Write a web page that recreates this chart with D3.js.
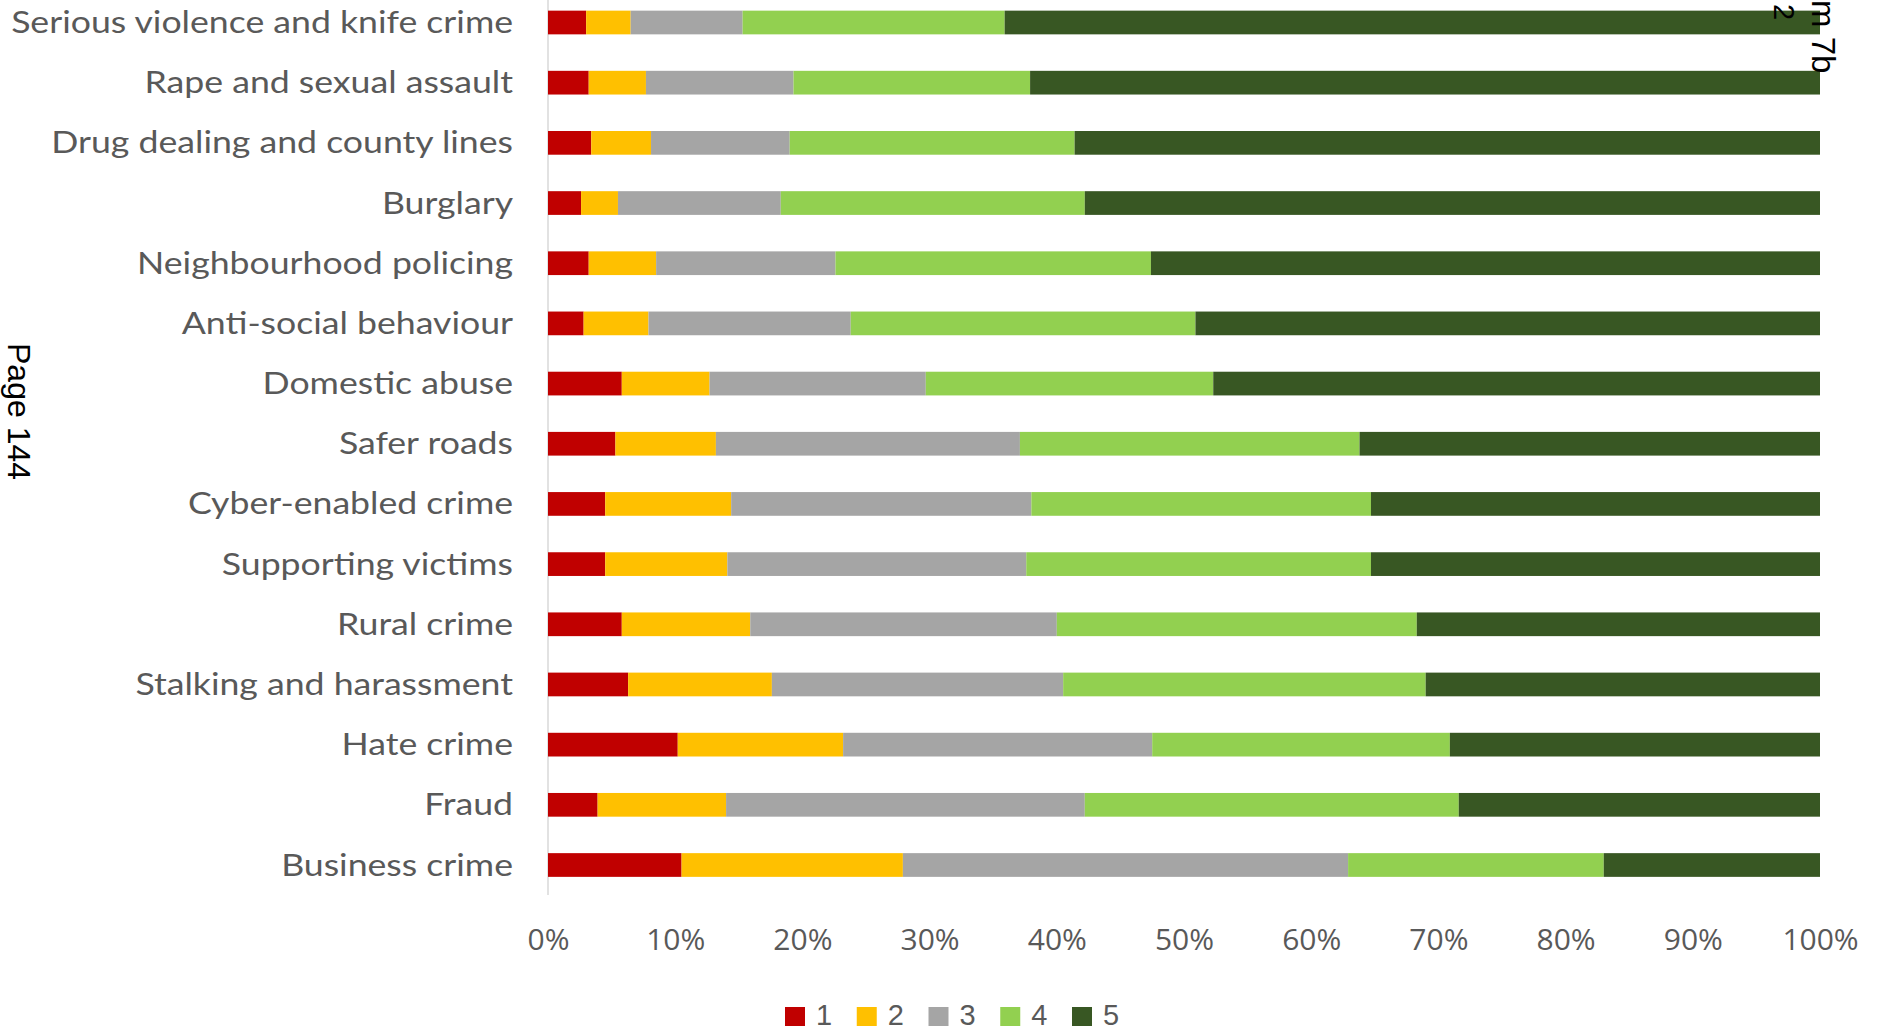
<!DOCTYPE html>
<html>
<head>
<meta charset="utf-8">
<script src="https://cdn.jsdelivr.net/npm/d3@7"></script>
<style>
  html, body { margin: 0; padding: 0; background: #ffffff; }
  svg { display: block; }
</style>
</head>
<body>
<svg id="chart" width="1877" height="1031"></svg>
<script>
// ---- data ----
const categories = [
  "Serious violence and knife crime",
  "Rape and sexual assault",
  "Drug dealing and county lines",
  "Burglary",
  "Neighbourhood policing",
  "Anti-social behaviour",
  "Domestic abuse",
  "Safer roads",
  "Cyber-enabled crime",
  "Supporting victims",
  "Rural crime",
  "Stalking and harassment",
  "Hate crime",
  "Fraud",
  "Business crime"
];
const seriesNames = ["1", "2", "3", "4", "5"];
const score1 = [3.0, 3.2, 3.4, 2.6, 3.2, 2.8, 5.8, 5.3, 4.5, 4.5, 5.8, 6.3, 10.2, 3.9, 10.5];
const score2 = [3.5, 4.5, 4.7, 2.9, 5.3, 5.1, 6.9, 7.9, 9.9, 9.6, 10.1, 11.3, 13.0, 10.1, 17.4];
const score3 = [8.8, 11.6, 10.9, 12.8, 14.1, 15.9, 17.0, 23.9, 23.6, 23.5, 24.1, 22.9, 24.3, 28.2, 35.0];
const score4 = [20.6, 18.6, 22.4, 23.9, 24.8, 27.1, 22.6, 26.7, 26.7, 27.1, 28.3, 28.5, 23.4, 29.4, 20.1];
const score5 = [64.1, 62.1, 58.6, 57.8, 52.6, 49.1, 47.7, 36.2, 35.3, 35.3, 31.7, 31.0, 29.1, 28.4, 17.0];
const xTicks = [0, 0.1, 0.2, 0.3, 0.4, 0.5, 0.6, 0.7, 0.8, 0.9, 1.0];
const colors = ["#C00000", "#FFC000", "#A5A5A5", "#92D050", "#385723"];

// ---- build table ----
const allSeries = [score1, score2, score3, score4, score5];
const rows = categories.map((c, i) => {
  const r = { category: c };
  seriesNames.forEach((s, k) => { r[s] = allSeries[k][i]; });
  return r;
});
const stack = d3.stack().keys(seriesNames).offset(d3.stackOffsetExpand);
const stacked = stack(rows);

const svg = d3.select("#chart");

const x = d3.scaleLinear().domain([0, 1]).range([548, 1820]);
const step = 60.18;
const y = d3.scaleBand()
  .domain(categories)
  .range([22.5 - step / 2, 865 + step / 2])
  .paddingInner(0.606)
  .paddingOuter(0.303);

// axis line (category axis)
svg.append("line")
  .attr("x1", x(0)).attr("x2", x(0))
  .attr("y1", 0).attr("y2", 895)
  .attr("stroke", "#D9D9D9").attr("stroke-width", 1.5);

// bars
const layers = svg.append("g").selectAll("g")
  .data(stacked)
  .join("g")
  .attr("fill", (d, i) => colors[i]);

layers.selectAll("rect")
  .data(d => d.map(v => ({ v, cat: v.data.category })))
  .join("rect")
  .attr("x", d => x(d.v[0]))
  .attr("width", d => x(d.v[1]) - x(d.v[0]))
  .attr("y", d => y(d.cat))
  .attr("height", y.bandwidth());

// category labels
const labelG = svg.append("g");
const labels = labelG.selectAll("text")
  .data(categories)
  .join("text")
  .attr("x", 0)
  .attr("y", 0)
  .attr("text-anchor", "end")
  .attr("font-family", "Lato, 'Open Sans', sans-serif")
  .attr("font-size", 31)
  .attr("fill", "#595959")
  .text(d => d);
// horizontal stretch to mimic reference font width
const w0 = labels.nodes()[0].getComputedTextLength();
const sx = 502 / w0;
labels.attr("transform", d => `translate(513, ${y(d) + y.bandwidth() / 2 + 10.5}) scale(${sx},1)`);

// x axis tick labels
const xAxis = d3.axisBottom(x)
  .tickValues(xTicks)
  .tickFormat(d3.format(".0%"))
  .tickSize(0)
  .tickPadding(0);
const gx = svg.append("g")
  .attr("transform", "translate(0, 918)")
  .call(xAxis);
gx.select(".domain").remove();
gx.selectAll("text")
  .attr("font-family", "'Open Sans', sans-serif")
  .attr("font-size", 30)
  .attr("fill", "#595959")
  .attr("dy", "1.07em");

// legend
const legend = svg.append("g");
const legX = d3.scalePoint().domain(seriesNames).range([785, 1072]);
const li = legend.selectAll("g")
  .data(seriesNames)
  .join("g")
  .attr("transform", d => `translate(${legX(d)}, 0)`);
li.append("rect")
  .attr("x", 0).attr("y", 1007)
  .attr("width", 20).attr("height", 19)
  .attr("fill", (d, i) => colors[i]);
li.append("text")
  .attr("x", 31).attr("y", 1025)
  .attr("font-family", "'Liberation Sans', Arial, sans-serif")
  .attr("font-size", 29)
  .attr("fill", "#595959")
  .text(d => d);

// page annotations
svg.append("text")
  .attr("transform", "translate(8, 343) rotate(90)")
  .attr("font-family", "'Liberation Sans', Arial, sans-serif")
  .attr("font-size", 32)
  .attr("fill", "#000")
  .text("Page 144");

svg.append("text")
  .attr("transform", "translate(1812, 0) rotate(90)")
  .attr("font-family", "'Liberation Sans', Arial, sans-serif")
  .attr("font-size", 33)
  .attr("fill", "#000")
  .text("m 7b");

svg.append("text")
  .attr("transform", "translate(1774, 4) rotate(90)")
  .attr("font-family", "'Liberation Sans', Arial, sans-serif")
  .attr("font-size", 29)
  .attr("fill", "#000")
  .text("2");
</script>
</body>
</html>
